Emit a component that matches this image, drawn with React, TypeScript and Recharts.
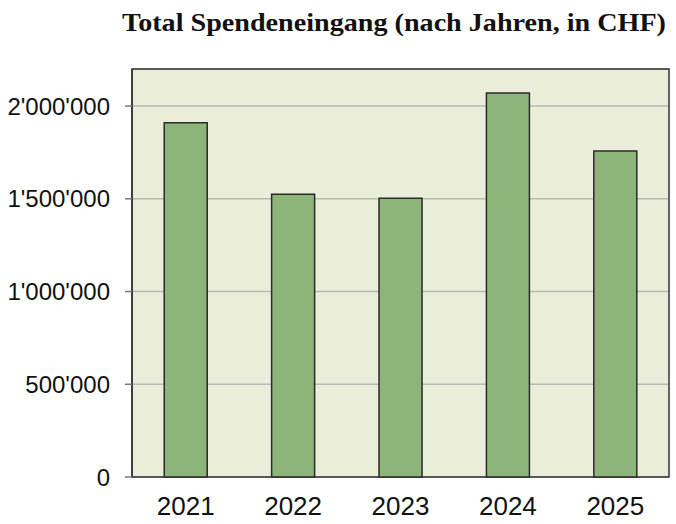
import React from 'react';
import { BarChart, Bar, XAxis, YAxis, CartesianGrid, ReferenceArea } from 'recharts';

const years = ['2021', '2022', '2023', '2024', '2025'];
const donations = [1910000, 1525000, 1503000, 2070000, 1758000];
const yTicks = [0, 500000, 1000000, 1500000, 2000000];
const boundaryTicks = [0, 1, 2, 3, 4, 5];
const title = 'Total Spendeneingang (nach Jahren, in CHF)';

const data = years.map((y, i) => ({ year: y, idx: i, value: donations[i] }));

const fmt = (v: number) => String(v).replace(/\B(?=(\d{3})+(?!\d))/g, "'");

export default function App() {
  return (
    <div style={{ position: 'absolute', left: 0, top: 0, width: 676, height: 524, background: '#fff' }}>
      <svg width={676} height={50} style={{ position: 'absolute', left: 0, top: 0 }}>
        <text x={666} y={31} textAnchor="end" fontFamily="'Liberation Serif', serif" fontWeight="bold" fontSize={26}
          textLength={544} lengthAdjust="spacingAndGlyphs" fill="#111">{title}</text>
      </svg>
      <div style={{ position: 'absolute', left: 0, top: 0 }}>
        <BarChart width={676} height={524} data={data} barCategoryGap="30%"
          margin={{ top: 69, right: 7, bottom: 0, left: 0 }}>
          <CartesianGrid vertical={false} fill="#e9edda" stroke="#b9bab2" strokeWidth={1.5} />
          <XAxis xAxisId="b" type="number" dataKey="idx" domain={[0, 5]} ticks={boundaryTicks}
            height={0} tickSize={7} tickFormatter={() => ''} axisLine={{ stroke: '#333', strokeWidth: 1.5 }}
            tickLine={{ stroke: '#555', strokeWidth: 1.5 }} allowDataOverflow />
          <XAxis xAxisId="c" dataKey="year" height={47} tickLine={false} axisLine={false} tickSize={0}
            tickMargin={20} tick={{ fill: '#111', fontSize: 26, fontFamily: "'Liberation Sans', Arial, sans-serif" }} />
          <YAxis width={132} domain={[0, 2200000]} ticks={yTicks} tickFormatter={fmt} tickSize={7} tickMargin={15}
            axisLine={{ stroke: '#333', strokeWidth: 1.5 }} tickLine={{ stroke: '#777', strokeWidth: 1.5 }}
            tick={{ fill: '#111', fontSize: 24, fontFamily: "'Liberation Sans', Arial, sans-serif" }} />
          <ReferenceArea xAxisId="b" x1={0} x2={5} y1={0} y2={2200000} fill="none" stroke="#333" strokeWidth={1.5} fillOpacity={0} />
          <Bar xAxisId="c" dataKey="value" fill="#8db57a" stroke="#2a2a2a" strokeWidth={1.5} isAnimationActive={false} />
        </BarChart>
      </div>
    </div>
  );
}
